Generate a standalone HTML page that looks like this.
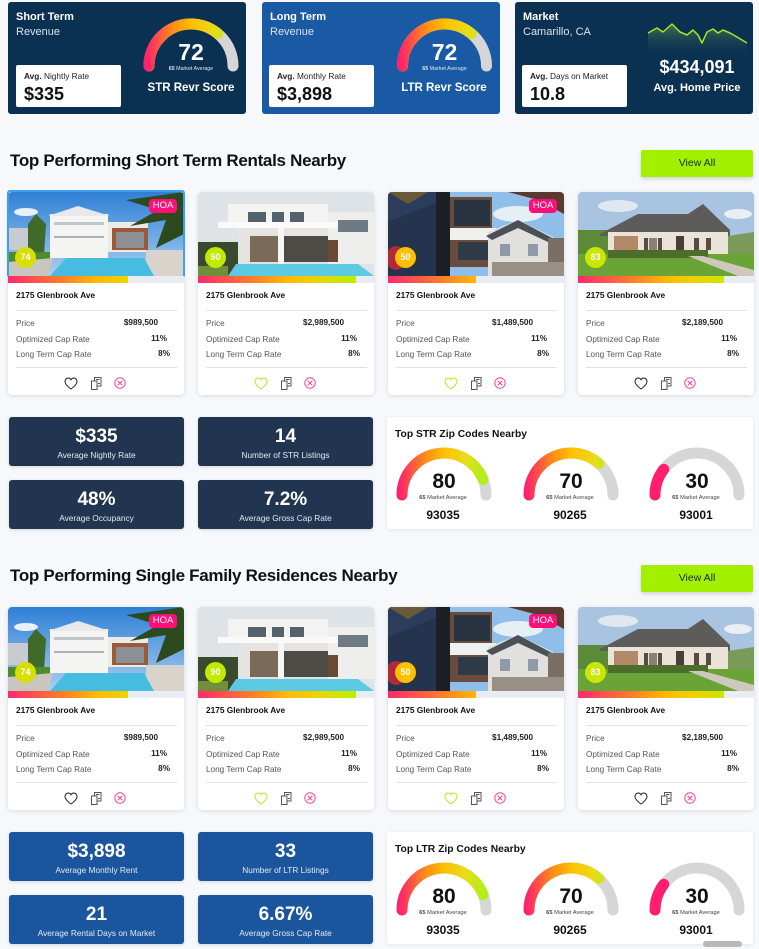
<!DOCTYPE html>
<html><head><meta charset="utf-8">
<style>
*{box-sizing:border-box}
body{margin:0;width:759px;height:949px;overflow:hidden;background:#f6f8fb;font-family:"Liberation Sans",Arial,sans-serif;position:relative;color:#111}
.a{position:absolute;white-space:nowrap}
.hc{position:absolute;top:2px;height:112px;width:238px;border-radius:3px}
.wb{position:absolute;top:65px;width:105px;height:42px;background:#fff;border-radius:2px}
.ht{font-size:11px;line-height:12px;font-weight:bold;color:#fff}
.hs{font-size:11px;line-height:12px;color:#dbe3ec}
.sm{font-size:8.3px;line-height:10px;color:#222}
.big{font-size:18px;line-height:20px;font-weight:bold;color:#111}
.h2{font-size:17px;line-height:20px;font-weight:bold;letter-spacing:-0.3px;color:#111}
.btn{position:absolute;left:641px;width:112px;height:27px;background:#a2f000;border-radius:2px;text-align:center;font-size:10.5px;line-height:27px;color:#1d2b10;box-shadow:0 2px 4px rgba(0,0,0,0.15)}
.card{position:absolute;width:176px;height:203px;background:#fff;border-radius:4px;box-shadow:0 1px 4px rgba(0,0,0,0.13)}
.img{position:absolute;left:0;top:0;width:176px;height:84px;overflow:hidden;border-radius:4px 4px 0 0}
.img svg{display:block}
.bar{position:absolute;left:0;top:84px;width:176px;height:7px;background:linear-gradient(90deg,#ff2a6e 0%,#ff7a2a 30%,#ffb800 50%,#ecd400 68%,#c4ea00 85%,#a8f000 100%)}
.rest{position:absolute;top:0;bottom:0;right:0;background:#e9edf3}
.score{position:absolute;left:7px;top:55px;width:21px;height:21px;border-radius:50%;color:#fff;font-weight:bold;font-size:9px;line-height:21px;text-align:center}
.hoa{position:absolute;left:141px;top:7px;width:28px;height:14px;background:#ff0f78;border-radius:4px;color:#fff;font-size:9.5px;line-height:14px;text-align:center}
.addr{position:absolute;left:8px;top:98px;font-size:8.3px;line-height:10px;font-weight:bold;color:#111;white-space:nowrap}
.hr{position:absolute;left:8px;width:161px;height:1px;background:#e3e3e3}
.lb{position:absolute;left:8px;font-size:8.2px;line-height:10px;color:#555;white-space:nowrap}
.v{position:absolute;font-size:8.2px;line-height:10px;font-weight:bold;color:#222;white-space:nowrap}
.ic{position:absolute;top:185px}
.sb{position:absolute;width:175px;height:49px;border-radius:3px;box-shadow:0 1px 3px rgba(0,0,0,0.15);text-align:center;color:#fff}
.sb .n{position:absolute;left:0;right:0;top:9px;font-size:19px;line-height:22px;font-weight:bold}
.sb .l{position:absolute;left:0;right:0;top:33px;font-size:8.3px;line-height:10px;color:#e4eaf2}
.zp{position:absolute;left:387px;width:366px;height:112px;background:#fff;border-radius:3px;box-shadow:0 1px 4px rgba(0,0,0,0.08)}
.sel{position:absolute;left:-1px;top:-2px;width:178px;height:88px;border:2px solid #40a0f0;border-radius:3px}
</style></head><body>

<!-- header cards -->
<div class="hc" style="left:8px;background:#0b3152"></div>
<div class="hc" style="left:262px;background:#1a59a3"></div>
<div class="hc" style="left:515px;background:#0b3152"></div>

<div class="a ht" style="left:16px;top:11px">Short Term</div>
<div class="a hs" style="left:16px;top:26px">Revenue</div>
<div class="wb" style="left:16px"></div>
<div class="a sm" style="left:24px;top:71px"><b>Avg.</b> Nightly Rate</div>
<div class="a big" style="left:24px;top:84px">$335</div>
<div class="a" style="left:131px;top:81px;width:120px;text-align:center;font-size:11.5px;line-height:14px;font-weight:bold;color:#fff">STR Revr Score</div>

<div class="a ht" style="left:270px;top:11px">Long Term</div>
<div class="a hs" style="left:270px;top:26px">Revenue</div>
<div class="wb" style="left:269px"></div>
<div class="a sm" style="left:277px;top:71px"><b>Avg.</b> Monthly Rate</div>
<div class="a big" style="left:277px;top:84px">$3,898</div>
<div class="a" style="left:384px;top:81px;width:120px;text-align:center;font-size:11.5px;line-height:14px;font-weight:bold;color:#fff">LTR Revr Score</div>

<div class="a ht" style="left:523px;top:11px">Market</div>
<div class="a hs" style="left:523px;top:26px">Camarillo, CA</div>
<div class="wb" style="left:522px"></div>
<div class="a sm" style="left:530px;top:71px"><b>Avg.</b> Days on Market</div>
<div class="a big" style="left:530px;top:84px">10.8</div>
<div class="a" style="left:637px;top:57px;width:120px;text-align:center;font-size:18px;line-height:20px;font-weight:bold;color:#fff">$434,091</div>
<div class="a" style="left:637px;top:81px;width:120px;text-align:center;font-size:11px;line-height:14px;font-weight:bold;color:#fff">Avg. Home Price</div>

<!-- SECTION 1 -->
<div class="a h2" style="left:10px;top:151px">Top Performing Short Term Rentals Nearby</div>
<div class="btn" style="top:150px">View All</div>

<!-- card 1 -->
<div class="card" style="left:8px;top:192px">
<div class="img"><svg width="176" height="84" viewBox="0 0 176 84"><defs><linearGradient id="s1" x1="0" y1="0" x2="0" y2="1"><stop offset="0" stop-color="#2f7fd6"/><stop offset="1" stop-color="#a9cff0"/></linearGradient></defs><rect width="176" height="84" fill="url(#s1)"/><ellipse cx="18" cy="20" rx="12" ry="4" fill="#e8f1fa"/><rect x="0" y="36" width="30" height="22" fill="#c8ccd0"/><path d="M20 32 l8-10 l10 10 l-2 32 h-16z" fill="#3f6a2a"/><rect x="42" y="22" width="58" height="44" fill="#f4f4f2"/><polygon points="40,24 70,14 102,24" fill="#e6e8ea"/><rect x="46" y="30" width="50" height="3" fill="#bfc5ca"/><rect x="46" y="44" width="50" height="2" fill="#aab0b5"/><rect x="100" y="30" width="40" height="30" fill="#ecebe8"/><rect x="104" y="36" width="36" height="22" fill="#9a5a3a"/><rect x="108" y="40" width="28" height="16" fill="#8c8f94"/><path d="M176 0 L118 8 L150 18 L122 34 L158 28 L148 56 L176 42Z" fill="#2d4a1f"/><rect x="0" y="60" width="42" height="10" fill="#4f8a2e"/><polygon points="0,84 0,70 45,66 40,84" fill="#c9c6c0"/><rect x="138" y="58" width="38" height="26" fill="#d8d4cc"/><polygon points="42,84 58,66 136,66 146,84" fill="#46bde0"/></svg><div class="score" style="background:#d6df00">74</div><div class="hoa">HOA</div></div>
<div class="sel"></div>
<div class="bar"><div class="rest" style="left:68%"></div></div>
<div class="addr">2175 Glenbrook Ave</div>
<div class="hr" style="top:118px"></div>
<div class="lb" style="top:127px">Price</div>
<div class="lb" style="top:143px">Optimized Cap Rate</div>
<div class="lb" style="top:158px">Long Term Cap Rate</div>
<div class="v" style="right:26px;top:126px">$989,500</div>
<div class="v" style="right:17px;top:142px">11%</div>
<div class="v" style="right:14px;top:157px">8%</div>
<div class="hr" style="top:175px"></div>
<svg class="ic" style="left:56px" width="14" height="13" viewBox="0 0 14 13"><path d="M7 12 C7 12 1 8 1 4.5 C1 2.5 2.5 1 4.3 1 C5.5 1 6.5 1.7 7 2.7 C7.5 1.7 8.5 1 9.7 1 C11.5 1 13 2.5 13 4.5 C13 8 7 12 7 12Z" fill="none" stroke="#222" stroke-width="1"/></svg>
<svg class="ic" style="left:83px" width="11" height="13" viewBox="0 0 11 13"><rect x="3.5" y="0.5" width="6.5" height="8.5" fill="none" stroke="#555"/><rect x="0.5" y="4" width="5.5" height="8.5" fill="#fff" stroke="#555"/><path d="M5 2.5h3.5M7 6.5h2" stroke="#555"/></svg>
<svg class="ic" style="left:106px" width="12" height="12" viewBox="0 0 12 12"><circle cx="6" cy="6" r="5.2" fill="none" stroke="#f0479a"/><path d="M3.6 3.6L8.4 8.4M8.4 3.6L3.6 8.4" stroke="#f0479a"/></svg>
</div>

<!-- card 2 -->
<div class="card" style="left:198px;top:192px">
<div class="img"><svg width="176" height="84" viewBox="0 0 176 84"><rect width="176" height="84" fill="#dde3e6"/><rect x="30" y="12" width="100" height="24" fill="#f3f3f1"/><rect x="130" y="20" width="46" height="52" fill="#eeeeec"/><rect x="140" y="28" width="30" height="12" fill="#6e7a84"/><rect x="50" y="20" width="18" height="10" fill="#55616b"/><rect x="74" y="20" width="12" height="10" fill="#55616b"/><rect x="92" y="20" width="14" height="10" fill="#55616b"/><rect x="20" y="30" width="120" height="6" fill="#fafafa"/><rect x="40" y="36" width="90" height="34" fill="#e6e4e0"/><rect x="52" y="44" width="28" height="26" fill="#7a6a58"/><rect x="86" y="44" width="44" height="26" fill="#4e4a46"/><rect x="80" y="36" width="6" height="36" fill="#f6f6f6"/><rect x="130" y="48" width="10" height="22" fill="#6b4a35"/><rect x="0" y="50" width="40" height="34" fill="#3a4a2e"/><polygon points="30,84 38,72 160,72 176,84" fill="#5ccae2"/><rect x="0" y="74" width="30" height="10" fill="#6f8f3a"/></svg><div class="score" style="background:#c2ea00">90</div></div>
<div class="bar"><div class="rest" style="left:90%"></div></div>
<div class="addr">2175 Glenbrook Ave</div>
<div class="hr" style="top:118px"></div>
<div class="lb" style="top:127px">Price</div>
<div class="lb" style="top:143px">Optimized Cap Rate</div>
<div class="lb" style="top:158px">Long Term Cap Rate</div>
<div class="v" style="right:30px;top:126px">$2,989,500</div>
<div class="v" style="right:17px;top:142px">11%</div>
<div class="v" style="right:14px;top:157px">8%</div>
<div class="hr" style="top:175px"></div>
<svg class="ic" style="left:56px" width="14" height="13" viewBox="0 0 14 13"><path d="M7 12 C7 12 1 8 1 4.5 C1 2.5 2.5 1 4.3 1 C5.5 1 6.5 1.7 7 2.7 C7.5 1.7 8.5 1 9.7 1 C11.5 1 13 2.5 13 4.5 C13 8 7 12 7 12Z" fill="none" stroke="#b5e61d" stroke-width="1"/></svg>
<svg class="ic" style="left:83px" width="11" height="13" viewBox="0 0 11 13"><rect x="3.5" y="0.5" width="6.5" height="8.5" fill="none" stroke="#555"/><rect x="0.5" y="4" width="5.5" height="8.5" fill="#fff" stroke="#555"/><path d="M5 2.5h3.5M7 6.5h2" stroke="#555"/></svg>
<svg class="ic" style="left:106px" width="12" height="12" viewBox="0 0 12 12"><circle cx="6" cy="6" r="5.2" fill="none" stroke="#f0479a"/><path d="M3.6 3.6L8.4 8.4M8.4 3.6L3.6 8.4" stroke="#f0479a"/></svg>
</div>

<!-- card 3 -->
<div class="card" style="left:388px;top:192px">
<div class="img"><svg width="176" height="84" viewBox="0 0 176 84"><rect width="176" height="84" fill="#8fbfe9"/><ellipse cx="130" cy="22" rx="25" ry="8" fill="#e6eef6"/><rect x="0" y="0" width="55" height="84" fill="#2b3c5c"/><polygon points="0,30 50,10 50,84 0,84" fill="#25344e"/><rect x="48" y="0" width="14" height="84" fill="#1c1f26"/><rect x="62" y="5" width="42" height="70" fill="#6a4c3e"/><rect x="66" y="8" width="36" height="26" fill="#2a3440"/><rect x="62" y="36" width="46" height="12" fill="#f0f0ee"/><rect x="70" y="50" width="30" height="18" fill="#2f3a48"/><polygon points="100,40 130,28 165,45 165,84 100,84" fill="#e2e0dc"/><polygon points="98,44 130,28 168,48 160,50 130,36 104,48" fill="#4a4f58"/><rect x="112" y="52" width="10" height="12" fill="#8e9aa6"/><rect x="140" y="52" width="10" height="12" fill="#8e9aa6"/><rect x="160" y="46" width="16" height="38" fill="#7b6e64"/><rect x="104" y="70" width="72" height="14" fill="#9a8f84"/><ellipse cx="8" cy="66" rx="10" ry="12" fill="#b02a3a"/><path d="M0 0 L40 0 L20 12Z" fill="#6b5a3a"/><path d="M120 0 L176 0 L176 22 L150 8Z" fill="#5a3a30"/></svg><div class="score" style="background:#ffc000">50</div><div class="hoa">HOA</div></div>
<div class="bar"><div class="rest" style="left:50%"></div></div>
<div class="addr">2175 Glenbrook Ave</div>
<div class="hr" style="top:118px"></div>
<div class="lb" style="top:127px">Price</div>
<div class="lb" style="top:143px">Optimized Cap Rate</div>
<div class="lb" style="top:158px">Long Term Cap Rate</div>
<div class="v" style="right:31px;top:126px">$1,489,500</div>
<div class="v" style="right:17px;top:142px">11%</div>
<div class="v" style="right:15px;top:157px">8%</div>
<div class="hr" style="top:175px"></div>
<svg class="ic" style="left:56px" width="14" height="13" viewBox="0 0 14 13"><path d="M7 12 C7 12 1 8 1 4.5 C1 2.5 2.5 1 4.3 1 C5.5 1 6.5 1.7 7 2.7 C7.5 1.7 8.5 1 9.7 1 C11.5 1 13 2.5 13 4.5 C13 8 7 12 7 12Z" fill="none" stroke="#b5e61d" stroke-width="1"/></svg>
<svg class="ic" style="left:83px" width="11" height="13" viewBox="0 0 11 13"><rect x="3.5" y="0.5" width="6.5" height="8.5" fill="none" stroke="#555"/><rect x="0.5" y="4" width="5.5" height="8.5" fill="#fff" stroke="#555"/><path d="M5 2.5h3.5M7 6.5h2" stroke="#555"/></svg>
<svg class="ic" style="left:106px" width="12" height="12" viewBox="0 0 12 12"><circle cx="6" cy="6" r="5.2" fill="none" stroke="#f0479a"/><path d="M3.6 3.6L8.4 8.4M8.4 3.6L3.6 8.4" stroke="#f0479a"/></svg>
</div>

<!-- card 4 -->
<div class="card" style="left:578px;top:192px">
<div class="img"><svg width="176" height="84" viewBox="0 0 176 84"><rect width="176" height="84" fill="#a8c4e0"/><ellipse cx="40" cy="14" rx="20" ry="6" fill="#dfe8f1"/><ellipse cx="160" cy="22" rx="14" ry="5" fill="#e8eef4"/><rect x="0" y="38" width="45" height="32" fill="#5d8a38"/><polygon points="22,42 60,22 110,22 125,12 152,38 152,44 22,44" fill="#5e5c5a"/><rect x="30" y="40" width="120" height="26" fill="#eae3d8"/><rect x="36" y="44" width="24" height="20" fill="#b28a6a"/><rect x="66" y="46" width="4" height="14" fill="#5a4a40"/><rect x="71" y="46" width="8" height="14" fill="#8a8078"/><rect x="80" y="46" width="4" height="14" fill="#5a4a40"/><rect x="98" y="44" width="8" height="20" fill="#4a3e36"/><rect x="116" y="46" width="5" height="12" fill="#5a4a40"/><rect x="128" y="46" width="5" height="12" fill="#5a4a40"/><polygon points="150,44 176,40 176,62 150,62" fill="#7a9a5a"/><rect x="0" y="62" width="176" height="22" fill="#6aa336"/><rect x="30" y="58" width="100" height="8" fill="#4c6e2a"/><polygon points="110,64 125,64 176,78 176,84 160,84" fill="#cfc8bc"/></svg><div class="score" style="background:#c9e800">83</div></div>
<div class="bar"><div class="rest" style="left:83%"></div></div>
<div class="addr">2175 Glenbrook Ave</div>
<div class="hr" style="top:118px"></div>
<div class="lb" style="top:127px">Price</div>
<div class="lb" style="top:143px">Optimized Cap Rate</div>
<div class="lb" style="top:158px">Long Term Cap Rate</div>
<div class="v" style="right:31px;top:126px">$2,189,500</div>
<div class="v" style="right:17px;top:142px">11%</div>
<div class="v" style="right:15px;top:157px">8%</div>
<div class="hr" style="top:175px"></div>
<svg class="ic" style="left:56px" width="14" height="13" viewBox="0 0 14 13"><path d="M7 12 C7 12 1 8 1 4.5 C1 2.5 2.5 1 4.3 1 C5.5 1 6.5 1.7 7 2.7 C7.5 1.7 8.5 1 9.7 1 C11.5 1 13 2.5 13 4.5 C13 8 7 12 7 12Z" fill="none" stroke="#222" stroke-width="1"/></svg>
<svg class="ic" style="left:83px" width="11" height="13" viewBox="0 0 11 13"><rect x="3.5" y="0.5" width="6.5" height="8.5" fill="none" stroke="#555"/><rect x="0.5" y="4" width="5.5" height="8.5" fill="#fff" stroke="#555"/><path d="M5 2.5h3.5M7 6.5h2" stroke="#555"/></svg>
<svg class="ic" style="left:106px" width="12" height="12" viewBox="0 0 12 12"><circle cx="6" cy="6" r="5.2" fill="none" stroke="#f0479a"/><path d="M3.6 3.6L8.4 8.4M8.4 3.6L3.6 8.4" stroke="#f0479a"/></svg>
</div>

<!-- stats 1 -->
<div class="sb" style="left:9px;top:417px;background:#213550"><div class="n">$335</div><div class="l">Average Nightly Rate</div></div>
<div class="sb" style="left:198px;top:417px;background:#213550"><div class="n">14</div><div class="l">Number of STR Listings</div></div>
<div class="sb" style="left:9px;top:480px;background:#213550"><div class="n">48%</div><div class="l">Average Occupancy</div></div>
<div class="sb" style="left:198px;top:480px;background:#213550"><div class="n">7.2%</div><div class="l">Average Gross Cap Rate</div></div>
<div class="zp" style="top:417px"></div>

<!-- SECTION 2 -->
<div class="a h2" style="left:10px;top:566px">Top Performing Single Family Residences Nearby</div>
<div class="btn" style="top:565px">View All</div>

<div class="card" style="left:8px;top:607px">
<div class="img"><svg width="176" height="84" viewBox="0 0 176 84"><rect width="176" height="84" fill="url(#s1)"/><ellipse cx="18" cy="20" rx="12" ry="4" fill="#e8f1fa"/><rect x="0" y="36" width="30" height="22" fill="#c8ccd0"/><path d="M20 32 l8-10 l10 10 l-2 32 h-16z" fill="#3f6a2a"/><rect x="42" y="22" width="58" height="44" fill="#f4f4f2"/><polygon points="40,24 70,14 102,24" fill="#e6e8ea"/><rect x="46" y="30" width="50" height="3" fill="#bfc5ca"/><rect x="46" y="44" width="50" height="2" fill="#aab0b5"/><rect x="100" y="30" width="40" height="30" fill="#ecebe8"/><rect x="104" y="36" width="36" height="22" fill="#9a5a3a"/><rect x="108" y="40" width="28" height="16" fill="#8c8f94"/><path d="M176 0 L118 8 L150 18 L122 34 L158 28 L148 56 L176 42Z" fill="#2d4a1f"/><rect x="0" y="60" width="42" height="10" fill="#4f8a2e"/><polygon points="0,84 0,70 45,66 40,84" fill="#c9c6c0"/><rect x="138" y="58" width="38" height="26" fill="#d8d4cc"/><polygon points="42,84 58,66 136,66 146,84" fill="#46bde0"/></svg><div class="score" style="background:#d6df00">74</div><div class="hoa">HOA</div></div>
<div class="bar"><div class="rest" style="left:68%"></div></div>
<div class="addr">2175 Glenbrook Ave</div>
<div class="hr" style="top:118px"></div>
<div class="lb" style="top:127px">Price</div>
<div class="lb" style="top:143px">Optimized Cap Rate</div>
<div class="lb" style="top:158px">Long Term Cap Rate</div>
<div class="v" style="right:26px;top:126px">$989,500</div>
<div class="v" style="right:17px;top:142px">11%</div>
<div class="v" style="right:14px;top:157px">8%</div>
<div class="hr" style="top:175px"></div>
<svg class="ic" style="left:56px" width="14" height="13" viewBox="0 0 14 13"><path d="M7 12 C7 12 1 8 1 4.5 C1 2.5 2.5 1 4.3 1 C5.5 1 6.5 1.7 7 2.7 C7.5 1.7 8.5 1 9.7 1 C11.5 1 13 2.5 13 4.5 C13 8 7 12 7 12Z" fill="none" stroke="#222" stroke-width="1"/></svg>
<svg class="ic" style="left:83px" width="11" height="13" viewBox="0 0 11 13"><rect x="3.5" y="0.5" width="6.5" height="8.5" fill="none" stroke="#555"/><rect x="0.5" y="4" width="5.5" height="8.5" fill="#fff" stroke="#555"/><path d="M5 2.5h3.5M7 6.5h2" stroke="#555"/></svg>
<svg class="ic" style="left:106px" width="12" height="12" viewBox="0 0 12 12"><circle cx="6" cy="6" r="5.2" fill="none" stroke="#f0479a"/><path d="M3.6 3.6L8.4 8.4M8.4 3.6L3.6 8.4" stroke="#f0479a"/></svg>
</div>

<div class="card" style="left:198px;top:607px">
<div class="img"><svg width="176" height="84" viewBox="0 0 176 84"><rect width="176" height="84" fill="#dde3e6"/><rect x="30" y="12" width="100" height="24" fill="#f3f3f1"/><rect x="130" y="20" width="46" height="52" fill="#eeeeec"/><rect x="140" y="28" width="30" height="12" fill="#6e7a84"/><rect x="50" y="20" width="18" height="10" fill="#55616b"/><rect x="74" y="20" width="12" height="10" fill="#55616b"/><rect x="92" y="20" width="14" height="10" fill="#55616b"/><rect x="20" y="30" width="120" height="6" fill="#fafafa"/><rect x="40" y="36" width="90" height="34" fill="#e6e4e0"/><rect x="52" y="44" width="28" height="26" fill="#7a6a58"/><rect x="86" y="44" width="44" height="26" fill="#4e4a46"/><rect x="80" y="36" width="6" height="36" fill="#f6f6f6"/><rect x="130" y="48" width="10" height="22" fill="#6b4a35"/><rect x="0" y="50" width="40" height="34" fill="#3a4a2e"/><polygon points="30,84 38,72 160,72 176,84" fill="#5ccae2"/><rect x="0" y="74" width="30" height="10" fill="#6f8f3a"/></svg><div class="score" style="background:#c2ea00">90</div></div>
<div class="bar"><div class="rest" style="left:90%"></div></div>
<div class="addr">2175 Glenbrook Ave</div>
<div class="hr" style="top:118px"></div>
<div class="lb" style="top:127px">Price</div>
<div class="lb" style="top:143px">Optimized Cap Rate</div>
<div class="lb" style="top:158px">Long Term Cap Rate</div>
<div class="v" style="right:30px;top:126px">$2,989,500</div>
<div class="v" style="right:17px;top:142px">11%</div>
<div class="v" style="right:14px;top:157px">8%</div>
<div class="hr" style="top:175px"></div>
<svg class="ic" style="left:56px" width="14" height="13" viewBox="0 0 14 13"><path d="M7 12 C7 12 1 8 1 4.5 C1 2.5 2.5 1 4.3 1 C5.5 1 6.5 1.7 7 2.7 C7.5 1.7 8.5 1 9.7 1 C11.5 1 13 2.5 13 4.5 C13 8 7 12 7 12Z" fill="none" stroke="#b5e61d" stroke-width="1"/></svg>
<svg class="ic" style="left:83px" width="11" height="13" viewBox="0 0 11 13"><rect x="3.5" y="0.5" width="6.5" height="8.5" fill="none" stroke="#555"/><rect x="0.5" y="4" width="5.5" height="8.5" fill="#fff" stroke="#555"/><path d="M5 2.5h3.5M7 6.5h2" stroke="#555"/></svg>
<svg class="ic" style="left:106px" width="12" height="12" viewBox="0 0 12 12"><circle cx="6" cy="6" r="5.2" fill="none" stroke="#f0479a"/><path d="M3.6 3.6L8.4 8.4M8.4 3.6L3.6 8.4" stroke="#f0479a"/></svg>
</div>

<div class="card" style="left:388px;top:607px">
<div class="img"><svg width="176" height="84" viewBox="0 0 176 84"><rect width="176" height="84" fill="#8fbfe9"/><ellipse cx="130" cy="22" rx="25" ry="8" fill="#e6eef6"/><rect x="0" y="0" width="55" height="84" fill="#2b3c5c"/><polygon points="0,30 50,10 50,84 0,84" fill="#25344e"/><rect x="48" y="0" width="14" height="84" fill="#1c1f26"/><rect x="62" y="5" width="42" height="70" fill="#6a4c3e"/><rect x="66" y="8" width="36" height="26" fill="#2a3440"/><rect x="62" y="36" width="46" height="12" fill="#f0f0ee"/><rect x="70" y="50" width="30" height="18" fill="#2f3a48"/><polygon points="100,40 130,28 165,45 165,84 100,84" fill="#e2e0dc"/><polygon points="98,44 130,28 168,48 160,50 130,36 104,48" fill="#4a4f58"/><rect x="112" y="52" width="10" height="12" fill="#8e9aa6"/><rect x="140" y="52" width="10" height="12" fill="#8e9aa6"/><rect x="160" y="46" width="16" height="38" fill="#7b6e64"/><rect x="104" y="70" width="72" height="14" fill="#9a8f84"/><ellipse cx="8" cy="66" rx="10" ry="12" fill="#b02a3a"/><path d="M0 0 L40 0 L20 12Z" fill="#6b5a3a"/><path d="M120 0 L176 0 L176 22 L150 8Z" fill="#5a3a30"/></svg><div class="score" style="background:#ffc000">50</div><div class="hoa">HOA</div></div>
<div class="bar"><div class="rest" style="left:50%"></div></div>
<div class="addr">2175 Glenbrook Ave</div>
<div class="hr" style="top:118px"></div>
<div class="lb" style="top:127px">Price</div>
<div class="lb" style="top:143px">Optimized Cap Rate</div>
<div class="lb" style="top:158px">Long Term Cap Rate</div>
<div class="v" style="right:31px;top:126px">$1,489,500</div>
<div class="v" style="right:17px;top:142px">11%</div>
<div class="v" style="right:15px;top:157px">8%</div>
<div class="hr" style="top:175px"></div>
<svg class="ic" style="left:56px" width="14" height="13" viewBox="0 0 14 13"><path d="M7 12 C7 12 1 8 1 4.5 C1 2.5 2.5 1 4.3 1 C5.5 1 6.5 1.7 7 2.7 C7.5 1.7 8.5 1 9.7 1 C11.5 1 13 2.5 13 4.5 C13 8 7 12 7 12Z" fill="none" stroke="#b5e61d" stroke-width="1"/></svg>
<svg class="ic" style="left:83px" width="11" height="13" viewBox="0 0 11 13"><rect x="3.5" y="0.5" width="6.5" height="8.5" fill="none" stroke="#555"/><rect x="0.5" y="4" width="5.5" height="8.5" fill="#fff" stroke="#555"/><path d="M5 2.5h3.5M7 6.5h2" stroke="#555"/></svg>
<svg class="ic" style="left:106px" width="12" height="12" viewBox="0 0 12 12"><circle cx="6" cy="6" r="5.2" fill="none" stroke="#f0479a"/><path d="M3.6 3.6L8.4 8.4M8.4 3.6L3.6 8.4" stroke="#f0479a"/></svg>
</div>

<div class="card" style="left:578px;top:607px">
<div class="img"><svg width="176" height="84" viewBox="0 0 176 84"><rect width="176" height="84" fill="#a8c4e0"/><ellipse cx="40" cy="14" rx="20" ry="6" fill="#dfe8f1"/><ellipse cx="160" cy="22" rx="14" ry="5" fill="#e8eef4"/><rect x="0" y="38" width="45" height="32" fill="#5d8a38"/><polygon points="22,42 60,22 110,22 125,12 152,38 152,44 22,44" fill="#5e5c5a"/><rect x="30" y="40" width="120" height="26" fill="#eae3d8"/><rect x="36" y="44" width="24" height="20" fill="#b28a6a"/><rect x="66" y="46" width="4" height="14" fill="#5a4a40"/><rect x="71" y="46" width="8" height="14" fill="#8a8078"/><rect x="80" y="46" width="4" height="14" fill="#5a4a40"/><rect x="98" y="44" width="8" height="20" fill="#4a3e36"/><rect x="116" y="46" width="5" height="12" fill="#5a4a40"/><rect x="128" y="46" width="5" height="12" fill="#5a4a40"/><polygon points="150,44 176,40 176,62 150,62" fill="#7a9a5a"/><rect x="0" y="62" width="176" height="22" fill="#6aa336"/><rect x="30" y="58" width="100" height="8" fill="#4c6e2a"/><polygon points="110,64 125,64 176,78 176,84 160,84" fill="#cfc8bc"/></svg><div class="score" style="background:#c9e800">83</div></div>
<div class="bar"><div class="rest" style="left:83%"></div></div>
<div class="addr">2175 Glenbrook Ave</div>
<div class="hr" style="top:118px"></div>
<div class="lb" style="top:127px">Price</div>
<div class="lb" style="top:143px">Optimized Cap Rate</div>
<div class="lb" style="top:158px">Long Term Cap Rate</div>
<div class="v" style="right:31px;top:126px">$2,189,500</div>
<div class="v" style="right:17px;top:142px">11%</div>
<div class="v" style="right:15px;top:157px">8%</div>
<div class="hr" style="top:175px"></div>
<svg class="ic" style="left:56px" width="14" height="13" viewBox="0 0 14 13"><path d="M7 12 C7 12 1 8 1 4.5 C1 2.5 2.5 1 4.3 1 C5.5 1 6.5 1.7 7 2.7 C7.5 1.7 8.5 1 9.7 1 C11.5 1 13 2.5 13 4.5 C13 8 7 12 7 12Z" fill="none" stroke="#222" stroke-width="1"/></svg>
<svg class="ic" style="left:83px" width="11" height="13" viewBox="0 0 11 13"><rect x="3.5" y="0.5" width="6.5" height="8.5" fill="none" stroke="#555"/><rect x="0.5" y="4" width="5.5" height="8.5" fill="#fff" stroke="#555"/><path d="M5 2.5h3.5M7 6.5h2" stroke="#555"/></svg>
<svg class="ic" style="left:106px" width="12" height="12" viewBox="0 0 12 12"><circle cx="6" cy="6" r="5.2" fill="none" stroke="#f0479a"/><path d="M3.6 3.6L8.4 8.4M8.4 3.6L3.6 8.4" stroke="#f0479a"/></svg>
</div>

<!-- stats 2 -->
<div class="sb" style="left:9px;top:832px;background:#1b559e"><div class="n">$3,898</div><div class="l">Average Monthly Rent</div></div>
<div class="sb" style="left:198px;top:832px;background:#1b559e"><div class="n">33</div><div class="l">Number of LTR Listings</div></div>
<div class="sb" style="left:9px;top:895px;background:#1b559e"><div class="n">21</div><div class="l">Average Rental Days on Market</div></div>
<div class="sb" style="left:198px;top:895px;background:#1b559e"><div class="n">6.67%</div><div class="l">Average Gross Cap Rate</div></div>
<div class="zp" style="top:832px"></div>

<div class="a" style="left:703px;top:941px;width:39px;height:6px;border-radius:3px;background:#b8b8b8"></div>

<!-- overlay: gauges, sparkline, zip texts -->
<svg class="a" style="left:0;top:0;pointer-events:none" width="759" height="949" viewBox="0 0 759 949" font-family="Liberation Sans, Arial, sans-serif">
<defs>
<linearGradient id="gA" gradientUnits="userSpaceOnUse" x1="143" y1="0" x2="239" y2="0"><stop offset="0.03" stop-color="#ff1f6e"/><stop offset="0.3" stop-color="#ff8a1a"/><stop offset="0.5" stop-color="#ffbf00"/><stop offset="0.75" stop-color="#e8dc1a"/><stop offset="0.92" stop-color="#b0ef1a"/></linearGradient>
<linearGradient id="gB" gradientUnits="userSpaceOnUse" x1="396.5" y1="0" x2="492.5" y2="0"><stop offset="0.03" stop-color="#ff1f6e"/><stop offset="0.3" stop-color="#ff8a1a"/><stop offset="0.5" stop-color="#ffbf00"/><stop offset="0.75" stop-color="#e8dc1a"/><stop offset="0.92" stop-color="#b0ef1a"/></linearGradient>
<linearGradient id="gZ1" gradientUnits="userSpaceOnUse" x1="396" y1="0" x2="492" y2="0"><stop offset="0.03" stop-color="#ff1f6e"/><stop offset="0.3" stop-color="#ff8a1a"/><stop offset="0.5" stop-color="#ffbf00"/><stop offset="0.72" stop-color="#e8dc1a"/><stop offset="0.92" stop-color="#b0ef1a"/></linearGradient>
<linearGradient id="gZ2" gradientUnits="userSpaceOnUse" x1="523" y1="0" x2="619" y2="0"><stop offset="0.03" stop-color="#ff1f6e"/><stop offset="0.3" stop-color="#ff8a1a"/><stop offset="0.5" stop-color="#ffbf00"/><stop offset="0.75" stop-color="#e8dc1a"/><stop offset="0.92" stop-color="#b0ef1a"/></linearGradient>
<linearGradient id="sp" x1="0" y1="0" x2="0" y2="1"><stop offset="0" stop-color="#6fa84a" stop-opacity="0.55"/><stop offset="1" stop-color="#0b3152" stop-opacity="0"/></linearGradient>
</defs>
<g fill="none" stroke-width="11" stroke-linecap="round">
<!-- top gauges -->
<path d="M149 66 A42 42 0 0 1 233 66" stroke="#d6d6d6"/>
<path d="M149 66 A42 42 0 0 1 217.8 33.6" stroke="url(#gA)"/>
<path d="M402.5 66 A42 42 0 0 1 486.5 66" stroke="#d6d6d6"/>
<path d="M402.5 66 A42 42 0 0 1 471.3 33.6" stroke="url(#gB)"/>
<!-- zip gauges section 1 -->
<path d="M402 495 A42 42 0 0 1 486 495" stroke="#d6d6d6"/>
<path d="M402 495 A42 42 0 0 1 483 479.5" stroke="url(#gZ1)"/>
<path d="M529 495 A42 42 0 0 1 613 495" stroke="#d6d6d6"/>
<path d="M529 495 A42 42 0 0 1 598.8 463.5" stroke="url(#gZ2)"/>
<path d="M655 495 A42 42 0 0 1 739 495" stroke="#d6d6d6"/>
<path d="M655 495 A42 42 0 0 1 663.8 469.3" stroke="#ff1f6e"/>
<!-- zip gauges section 2 -->
<g transform="translate(0,415)">
<path d="M402 495 A42 42 0 0 1 486 495" stroke="#d6d6d6"/>
<path d="M402 495 A42 42 0 0 1 483 479.5" stroke="url(#gZ1)"/>
<path d="M529 495 A42 42 0 0 1 613 495" stroke="#d6d6d6"/>
<path d="M529 495 A42 42 0 0 1 598.8 463.5" stroke="url(#gZ2)"/>
<path d="M655 495 A42 42 0 0 1 739 495" stroke="#d6d6d6"/>
<path d="M655 495 A42 42 0 0 1 663.8 469.3" stroke="#ff1f6e"/>
</g>
</g>
<!-- sparkline -->
<polygon points="648,33 657,28 663,32 672,24 680,32 687,35 693,30 698,35 702,43 707,32 713,29 718,33 723,30 730,33 737,37 747,43 747,58 648,58" fill="url(#sp)"/>
<polyline points="648,33 657,28 663,32 672,24 680,32 687,35 693,30 698,35 702,43 707,32 713,29 718,33 723,30 730,33 737,37 747,43" fill="none" stroke="#a6e62a" stroke-width="1.5" stroke-linejoin="round"/>
<!-- gauge texts top -->
<g text-anchor="middle" font-weight="bold" fill="#fff">
<text x="191" y="60" font-size="23">72</text>
<text x="444.5" y="60" font-size="23">72</text>
</g>
<g text-anchor="middle" font-size="5.3" fill="#dfe6ee">
<text x="191" y="70"><tspan font-weight="bold">65</tspan> Market Average</text>
<text x="444.5" y="70"><tspan font-weight="bold">65</tspan> Market Average</text>
</g>
<!-- zip texts -->
<g fill="#111">
<text x="395" y="437" font-size="10.3" font-weight="bold">Top STR Zip Codes Nearby</text>
<text x="395" y="852" font-size="10.3" font-weight="bold">Top LTR Zip Codes Nearby</text>
<g text-anchor="middle" font-weight="bold" font-size="21">
<text x="444" y="488">80</text><text x="571" y="488">70</text><text x="697" y="488">30</text>
<text x="444" y="903">80</text><text x="571" y="903">70</text><text x="697" y="903">30</text>
</g>
<g text-anchor="middle" font-size="5.7" fill="#444">
<text x="443" y="499"><tspan font-weight="bold">65</tspan> Market Average</text>
<text x="570" y="499"><tspan font-weight="bold">65</tspan> Market Average</text>
<text x="696" y="499"><tspan font-weight="bold">65</tspan> Market Average</text>
<text x="443" y="914"><tspan font-weight="bold">65</tspan> Market Average</text>
<text x="570" y="914"><tspan font-weight="bold">65</tspan> Market Average</text>
<text x="696" y="914"><tspan font-weight="bold">65</tspan> Market Average</text>
</g>
<g text-anchor="middle" font-weight="bold" font-size="12">
<text x="443" y="519">93035</text><text x="570" y="519">90265</text><text x="696" y="519">93001</text>
<text x="443" y="934">93035</text><text x="570" y="934">90265</text><text x="696" y="934">93001</text>
</g>
</g>
</svg>
</body></html>
